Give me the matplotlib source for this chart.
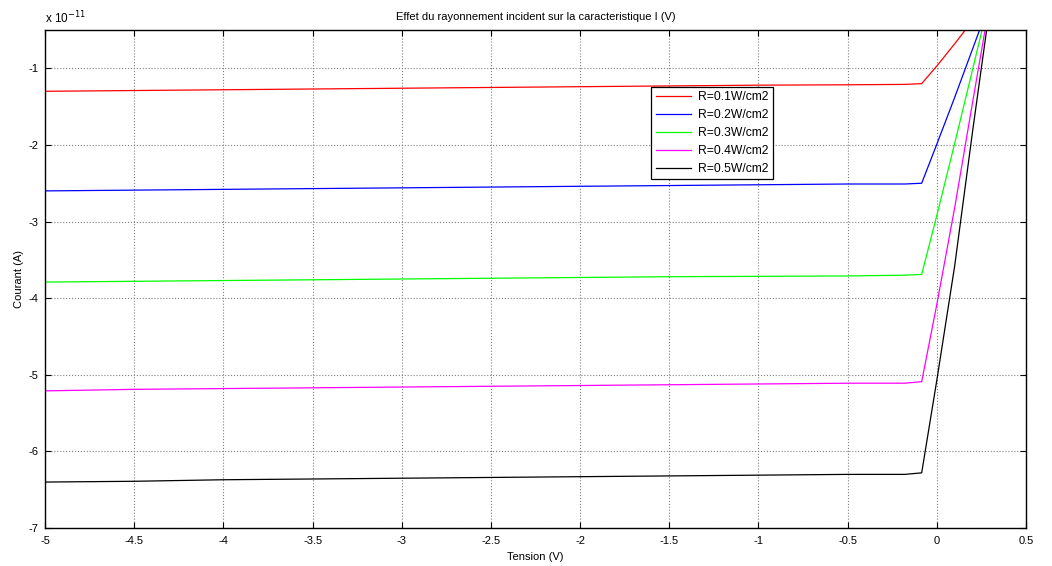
import numpy as np
import matplotlib.pyplot as plt
from matplotlib.ticker import FuncFormatter

plt.rcParams['font.family'] = ['Liberation Sans', 'DejaVu Sans']

# tension (V) et courant (en unites de 1e-11 A)
tension = [-5.0, -4.5, -4.0, -3.5, -3.0, -2.5, -2.0, -1.5, -1.0, -0.5,
           -0.18, -0.085, 0.0, 0.1, 0.2, 0.3]
courant_01 = [-1.30, -1.29, -1.28, -1.27, -1.26, -1.25, -1.24, -1.23, -1.22, -1.215,
              -1.21, -1.20, -0.97, -0.68, -0.38, -0.10]
courant_02 = [-2.60, -2.59, -2.58, -2.57, -2.56, -2.55, -2.54, -2.53, -2.52, -2.51,
              -2.51, -2.50, -1.99, -1.38, -0.75, -0.12]
courant_03 = [-3.79, -3.78, -3.77, -3.76, -3.75, -3.74, -3.73, -3.72, -3.715, -3.71,
              -3.70, -3.69, -2.92, -1.98, -1.02, -0.05]
courant_04 = [-5.21, -5.19, -5.18, -5.17, -5.16, -5.15, -5.14, -5.13, -5.12, -5.11,
              -5.11, -5.09, -4.08, -2.82, -1.45, -0.10]
courant_05 = [-6.40, -6.39, -6.37, -6.36, -6.35, -6.34, -6.33, -6.32, -6.31, -6.30,
              -6.30, -6.28, -5.07, -3.58, -1.83, -0.15]
labels = ['R=0.1W/cm2', 'R=0.2W/cm2', 'R=0.3W/cm2', 'R=0.4W/cm2', 'R=0.5W/cm2']
couleurs = ['#ff0000', '#0000ff', '#00ff00', '#ff00ff', '#000000']

fig = plt.figure(figsize=(10.52, 5.66), dpi=100)
ax = fig.add_axes([0.0428, 0.0671, 0.9325, 0.8799])

for courant, lab, c in zip([courant_01, courant_02, courant_03, courant_04, courant_05],
                           labels, couleurs):
    ax.plot(tension, np.array(courant) * 1e-11, color=c, lw=0.9, label=lab)

ax.set_xlim(-5, 0.5)
ax.set_ylim(-7e-11, -0.5e-11)
ax.set_xticks(np.arange(-5, 0.51, 0.5))
ax.set_yticks(np.arange(-7, -0.9, 1) * 1e-11)
ax.xaxis.set_major_formatter(FuncFormatter(lambda v, p: '%g' % round(v, 2)))
ax.yaxis.set_major_formatter(FuncFormatter(lambda v, p: '%g' % round(v / 1e-11, 2)))
ax.tick_params(direction='in', length=4, width=0.8, labelsize=8,
               top=True, right=True, pad=3)
ax.tick_params(axis='x', pad=6)
ax.tick_params(axis='y', pad=5)
ax.grid(True, color='#808080', linestyle=':', lw=0.8)
for s in ax.spines.values():
    s.set_linewidth(1.0)

ax.set_title('Effet du rayonnement incident sur la caracteristique I (V)',
             fontsize=8, pad=7)
ax.set_xlabel('Tension (V)', fontsize=8, labelpad=4)
ax.set_ylabel('Courant (A)', fontsize=8, labelpad=3)
ax.text(0.0, 1.008, 'x 10$^{-11}$', transform=ax.transAxes, fontsize=8.5,
        ha='left', va='bottom')

leg = ax.legend(loc='upper left', bbox_to_anchor=(0.618, 0.886), fontsize=8.7,
                frameon=True, fancybox=False, edgecolor='black', framealpha=1,
                handlelength=2.9, handletextpad=0.6, labelspacing=0.5,
                borderpad=0.35, borderaxespad=0)
leg.get_frame().set_linewidth(0.9)

fig.savefig('out.png', dpi=100)
